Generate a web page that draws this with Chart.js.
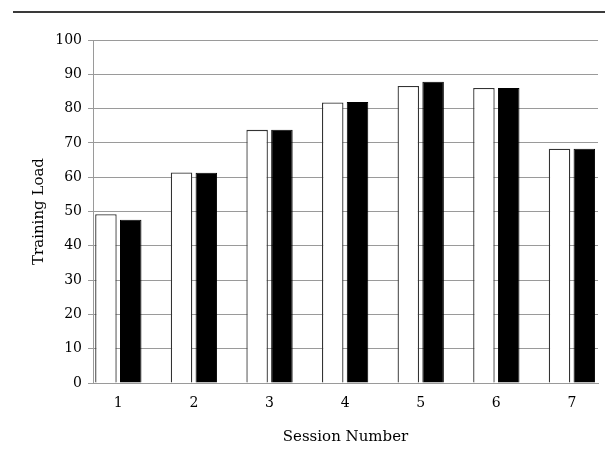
<!DOCTYPE html>
<html>
<head>
<meta charset="utf-8">
<script src="https://cdn.jsdelivr.net/npm/chart.js@4"></script>
<style>
  html, body { margin: 0; padding: 0; background: #fff; }
  #wrap { position: relative; width: 605px; height: 449px; }
  #rule { position: absolute; left: 13px; top: 11px; width: 592px; height: 2px; background: #3a3a3a; }
  canvas { position: absolute; left: 0; top: 0; }
</style>
</head>
<body>
<div id="wrap">
  <canvas id="c" width="605" height="449"></canvas>
  <div id="rule"></div>
</div>
<script>
const categories = ['1', '2', '3', '4', '5', '6', '7'];
const seriesWhite = [49.2, 61.4, 73.8, 81.8, 86.6, 86.0, 68.3];
const seriesBlack = [47.6, 61.3, 73.8, 81.9, 87.8, 86.0, 68.3];
const yTicks = [0, 10, 20, 30, 40, 50, 60, 70, 80, 90, 100];

const FONT = "'DejaVu Serif', serif";
const GRID = '#9a9a9a';

const toPoints = arr => arr.map((v, i) => ({ x: i + 1, y: v }));

new Chart(document.getElementById('c'), {
  type: 'bar',
  data: {
    datasets: [
      {
        label: 'A',
        data: toPoints(seriesWhite),
        backgroundColor: '#ffffff',
        borderColor: '#333333',
        borderWidth: 1.3,
        categoryPercentage: 0.656,
        barPercentage: 0.867
      },
      {
        label: 'B',
        data: toPoints(seriesBlack),
        backgroundColor: '#000000',
        borderColor: '#000000',
        borderWidth: 1,
        categoryPercentage: 0.656,
        barPercentage: 0.867
      }
    ]
  },
  options: {
    responsive: false,
    animation: false,
    layout: { padding: { top: 40, left: 0, right: 7, bottom: 0 } },
    plugins: { legend: { display: false }, tooltip: { enabled: false } },
    scales: {
      x: {
        type: 'linear',
        offset: false,
        min: 0.665,
        max: 7.345,
        afterBuildTicks: s => { s.ticks = categories.map((c, i) => ({ value: i + 1 })); },
        afterFit: s => { s.height = 66; },
        grid: { display: false, drawTicks: false },
        border: { display: true, color: GRID },
        ticks: {
          padding: 12,
          color: '#000',
          font: { family: FONT, size: 14 },
          callback: (v) => categories[Math.round(v) - 1]
        },
        title: {
          display: true,
          text: 'Session Number',
          color: '#000',
          font: { family: FONT, size: 15 },
          padding: { top: 0, bottom: 3 }
        }
      },
      y: {
        min: 0,
        max: 100,
        afterBuildTicks: s => { s.ticks = yTicks.map(v => ({ value: v })); },
        afterFit: s => { s.width = 93; },
        grid: { color: GRID, lineWidth: 1, tickLength: 5, drawTicks: true },
        border: { display: true, color: GRID },
        ticks: {
          padding: 6,
          color: '#000',
          font: { family: FONT, size: 14 }
        },
        title: {
          display: true,
          text: 'Training Load',
          color: '#000',
          font: { family: FONT, size: 15 },
          padding: { top: 30, bottom: 0 }
        }
      }
    }
  }
});
</script>
</body>
</html>
